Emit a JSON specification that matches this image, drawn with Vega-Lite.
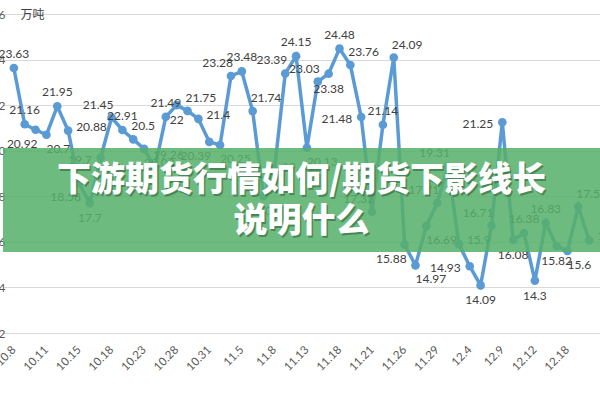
{
  "$schema": "https://vega.github.io/schema/vega-lite/v6.json",
  "width": 597,
  "height": 319,
  "autosize": {"type": "none"},
  "padding": {"left": 3, "right": 0, "top": 14, "bottom": 67},
  "background": "white",
  "config": {"view": {"stroke": null}, "font": "Lato"},
  "layer": [
    {
      "data": {"values": [
        {"d": "10.8", "v": 23.63, "t": "23.63"},
        {"d": "10.9", "v": 21.16, "t": "21.16"},
        {"d": "10.10", "v": 20.92, "t": "20.92"},
        {"d": "10.11", "v": 20.7, "t": "20.7"},
        {"d": "10.12", "v": 21.95, "t": "21.95"},
        {"d": "10.14", "v": 20.88, "t": "20.88"},
        {"d": "10.15", "v": 18.58, "t": "18.58"},
        {"d": "10.16", "v": 17.7, "t": "17.7"},
        {"d": "10.17", "v": 19.7, "t": "19.7"},
        {"d": "10.18", "v": 21.45, "t": "21.45"},
        {"d": "10.21", "v": 20.91, "t": "22.91"},
        {"d": "10.22", "v": 20.5, "t": "20.5"},
        {"d": "10.23", "v": 20.08, "t": "20.08"},
        {"d": "10.24", "v": 19.26, "t": "19.26"},
        {"d": "10.25", "v": 21.49, "t": "21.49"},
        {"d": "10.28", "v": 22.0, "t": "22"},
        {"d": "10.29", "v": 21.75, "t": "21.75"},
        {"d": "10.30", "v": 21.4, "t": "21.4"},
        {"d": "10.31", "v": 20.39, "t": "20.39"},
        {"d": "11.1", "v": 20.25, "t": "20.25"},
        {"d": "11.4", "v": 23.28, "t": "23.28"},
        {"d": "11.5", "v": 23.48, "t": "23.48"},
        {"d": "11.6", "v": 21.74, "t": "21.74"},
        {"d": "11.7", "v": 18.01, "t": "18.01"},
        {"d": "11.8", "v": 19.13, "t": "19.13"},
        {"d": "11.11", "v": 23.39, "t": "23.39"},
        {"d": "11.12", "v": 24.15, "t": "24.15"},
        {"d": "11.13", "v": 20.13, "t": "20.13"},
        {"d": "11.14", "v": 23.03, "t": "23.03"},
        {"d": "11.15", "v": 23.38, "t": "23.38"},
        {"d": "11.18", "v": 24.48, "t": "24.48"},
        {"d": "11.19", "v": 23.76, "t": "23.76"},
        {"d": "11.20", "v": 21.48, "t": "21.48"},
        {"d": "11.21", "v": 17.32, "t": "17.32"},
        {"d": "11.22", "v": 21.14, "t": "21.14"},
        {"d": "11.25", "v": 24.09, "t": "24.09"},
        {"d": "11.26", "v": 15.88, "t": "15.88"},
        {"d": "11.27", "v": 14.97, "t": "14.97"},
        {"d": "11.28", "v": 16.69, "t": "16.69"},
        {"d": "11.29", "v": 17.71, "t": "17.71"},
        {"d": "12.2", "v": 19.31, "t": "19.31"},
        {"d": "12.3", "v": 15.9, "t": "15.9"},
        {"d": "12.4", "v": 14.93, "t": "14.93"},
        {"d": "12.5", "v": 14.09, "t": "14.09"},
        {"d": "12.6", "v": 16.71, "t": "16.71"},
        {"d": "12.9", "v": 21.25, "t": "21.25"},
        {"d": "12.10", "v": 16.08, "t": "16.08"},
        {"d": "12.11", "v": 16.38, "t": "16.38"},
        {"d": "12.12", "v": 14.3, "t": "14.3"},
        {"d": "12.13", "v": 16.83, "t": "16.83"},
        {"d": "12.17", "v": 15.82, "t": "15.82"},
        {"d": "12.18", "v": 15.6, "t": "15.6"},
        {"d": "12.19", "v": 17.55, "t": "17.55"},
        {"d": "12.20", "v": 16.06, "t": "16.06"}
      ]},
      "encoding": {
        "x": {
          "field": "d", "type": "ordinal", "sort": null,
          "scale": {"type": "point", "padding": 1.46},
          "axis": {
            "title": null,
            "values": ["10.8","10.11","10.15","10.18","10.23","10.28","10.31","11.5","11.8","11.13","11.18","11.21","11.26","11.29","12.4","12.9","12.12","12.18"],
            "labelAngle": -45, "labelAlign": "right", "labelBaseline": "middle",
            "labelFontSize": 11.5, "labelColor": "#595959", "labelFont": "Lato",
            "labelPadding": 15, "domain": false, "ticks": false, "tickSize": 0, "grid": false
          }
        },
        "y": {
          "field": "v", "type": "quantitative",
          "scale": {"domain": [12, 26], "nice": false, "zero": false},
          "axis": {
            "title": "万吨", "titleAngle": 0, "titleX": 17, "titleY": 0,
            "titleAlign": "left", "titleBaseline": "middle",
            "titleFontSize": 12, "titleFontWeight": "normal", "titleColor": "#404040",
            "titleFont": "Noto Sans CJK SC",
            "values": [12, 14, 16, 18, 20, 22, 24, 26],
            "domain": false, "ticks": false, "tickSize": 0, "labelPadding": -2,
            "labelColor": "#595959", "labelFontSize": 12, "labelFont": "Lato",
            "gridColor": "#D9D9D9", "gridWidth": 1
          }
        }
      },
      "layer": [
        {"mark": {"type": "line", "color": "#5B9BD5", "strokeWidth": 3.5, "point": {"filled": true, "size": 75, "color": "#5B9BD5", "opacity": 1}}},
        {"transform": [{"filter": {"field": "d", "oneOf": ["10.8","10.9","10.12","10.21","10.25","11.5","11.12","11.18","11.22","12.11","12.13"]}}],
         "mark": {"type": "text", "dy": -14, "align": "center", "fontSize": 12, "color": "#404040", "font": "Lato"},
         "encoding": {"text": {"field": "t"}}},
        {"transform": [{"filter": {"field": "d", "oneOf": ["10.16","10.28","11.7","11.15","12.5","12.10","12.12","12.17"]}}],
         "mark": {"type": "text", "dy": 15, "align": "center", "fontSize": 12, "color": "#404040", "font": "Lato"},
         "encoding": {"text": {"field": "t"}}},
        {"transform": [{"filter": {"field": "d", "oneOf": ["10.17","11.20","12.4","12.9"]}}],
         "mark": {"type": "text", "dx": -9, "dy": 2, "align": "right", "fontSize": 12, "color": "#404040", "font": "Lato"},
         "encoding": {"text": {"field": "t"}}},
        {"transform": [{"filter": {"field": "d", "oneOf": ["10.14","10.30","11.8","12.3","12.20"]}}],
         "mark": {"type": "text", "dx": 8, "dy": -4, "align": "left", "fontSize": 12, "color": "#404040", "font": "Lato"},
         "encoding": {"text": {"field": "t"}}},
        {"transform": [{"filter": {"field": "d", "oneOf": ["10.18","11.4","11.11","11.14","11.21","11.29","12.2","12.6"]}}],
         "mark": {"type": "text", "dx": 2, "dy": -13, "align": "right", "fontSize": 12, "color": "#404040", "font": "Lato"},
         "encoding": {"text": {"field": "t"}}},
        {"transform": [{"filter": {"field": "d", "oneOf": ["10.22","10.24","10.29","11.6","11.19","11.25","12.19"]}}],
         "mark": {"type": "text", "dx": -2, "dy": -13, "align": "left", "fontSize": 12, "color": "#404040", "font": "Lato"},
         "encoding": {"text": {"field": "t"}}},
        {"transform": [{"filter": {"field": "d", "oneOf": ["10.10","10.15","10.31","11.26"]}}],
         "mark": {"type": "text", "dx": 2, "dy": 14, "align": "right", "fontSize": 12, "color": "#404040", "font": "Lato"},
         "encoding": {"text": {"field": "t"}}},
        {"transform": [{"filter": {"field": "d", "oneOf": ["10.11","10.23","11.1","11.13","11.27","11.28","12.18"]}}],
         "mark": {"type": "text", "dx": 0, "dy": 14, "align": "left", "fontSize": 12, "color": "#404040", "font": "Lato"},
         "encoding": {"text": {"field": "t"}}}
      ]
    },
    {
      "data": {"values": [{"k": "banner"}]},
      "mark": {"type": "rect", "color": "#56B06A", "opacity": 0.86},
      "encoding": {
        "y": {"datum": 20.12, "type": "quantitative"},
        "y2": {"datum": 15.56}
      }
    },
    {
      "data": {"values": [{"k": "banner"}]},
      "mark": {"type": "text", "font": "Noto Sans CJK SC", "fontSize": 34, "fontWeight": 900, "color": "#2E5E38", "opacity": 0.55, "align": "center", "baseline": "middle", "lineHeight": 41, "dx": 1.5, "dy": 1.5},
      "encoding": {
        "y": {"datum": 18.67, "type": "quantitative"},
        "text": {"value": ["下游期货行情如何/期货下影线长", "说明什么"]}
      }
    },
    {
      "data": {"values": [{"k": "banner"}]},
      "mark": {"type": "text", "font": "Noto Sans CJK SC", "fontSize": 34, "fontWeight": 900, "color": "white", "align": "center", "baseline": "middle", "lineHeight": 41},
      "encoding": {
        "y": {"datum": 18.67, "type": "quantitative"},
        "text": {"value": ["下游期货行情如何/期货下影线长", "说明什么"]}
      }
    }
  ]
}
